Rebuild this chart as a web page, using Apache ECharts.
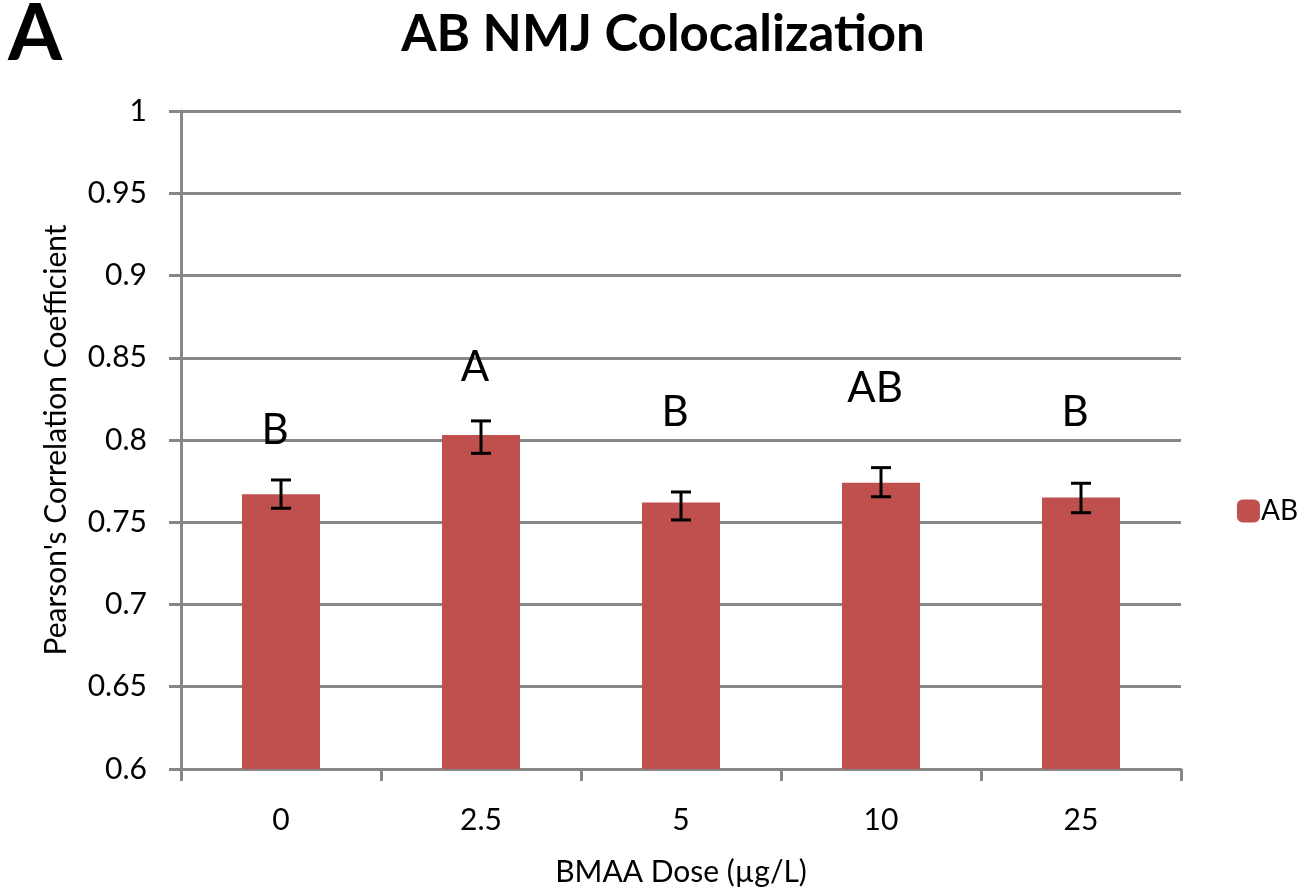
<!DOCTYPE html>
<html>
<head>
<meta charset="utf-8">
<script src="https://cdn.jsdelivr.net/npm/echarts@6/dist/echarts.min.js"></script>
<style>html,body{margin:0;padding:0;background:#fff;}#c{width:1305px;height:892px;}</style>
</head>
<body>
<div id="c"></div>
<script>
var categories = ['0', '2.5', '5', '10', '25'];
var means = [0.767, 0.803, 0.762, 0.774, 0.765];
var errLow = [0.7585, 0.7919, 0.7514, 0.7655, 0.7558];
var errHigh = [0.7757, 0.8116, 0.7684, 0.7832, 0.7737];
var letters = ['B', 'A', 'B', 'AB', 'B'];
var letterY = [0.8055, 0.8438, 0.817, 0.8316, 0.817];
var yTicks = [0.6, 0.65, 0.7, 0.75, 0.8, 0.85, 0.9, 0.95, 1];

var FONT = 'Lato, "Open Sans", sans-serif';
var chart = echarts.init(document.getElementById('c'));
var gridColor = '#878787';

chart.setOption({
  backgroundColor: '#ffffff',
  animation: false,
  title: {
    text: 'AB NMJ Colocalization',
    left: 658, top: 4, textAlign: 'center',
    textStyle: {fontFamily: FONT, fontSize: 51, fontWeight: 'bold', color: '#000'}
  },
  graphic: [{
    type: 'text', left: 8, top: -4,
    style: {text: 'A', font: 'bold 78px ' + FONT, fill: '#000'}
  }],
  legend: {
    right: 2, top: 492, itemWidth: 23, itemHeight: 23, itemGap: 0,
    data: ['AB'],
    textStyle: {fontFamily: FONT, fontSize: 28, color: '#000', padding: [0, 0, 0, -4]}
  },
  grid: {left: 181, right: 124, top: 111, bottom: 123},
  xAxis: {
    type: 'category', data: categories,
    name: 'BMAA Dose (\u00b5g/L)', nameLocation: 'middle', nameGap: 88,
    nameTextStyle: {fontFamily: FONT, fontSize: 30, color: '#000'},
    axisLine: {lineStyle: {color: gridColor, width: 3}},
    axisTick: {show: true, length: 12, lineStyle: {color: gridColor, width: 3}},
    axisLabel: {fontFamily: FONT, fontSize: 30, color: '#000', margin: 36}
  },
  yAxis: {
    type: 'value', min: 0.6, max: 1, interval: 0.05,
    name: "Pearson's Correlation Coefficient", nameLocation: 'middle', nameGap: 110,
    nameTextStyle: {fontFamily: FONT, fontSize: 30, color: '#000'},
    axisLine: {show: true, lineStyle: {color: gridColor, width: 3}},
    axisTick: {show: true, length: 12, lineStyle: {color: gridColor, width: 3}},
    splitLine: {lineStyle: {color: gridColor, width: 3}},
    axisLabel: {fontFamily: FONT, fontSize: 30, color: '#000', margin: 34,
      formatter: function (v) {
        var best = yTicks.reduce(function (a, b) { return Math.abs(b - v) < Math.abs(a - v) ? b : a; });
        return String(best);
      }}
  },
  series: [
    {
      name: 'AB', type: 'bar', data: means, barWidth: 78,
      itemStyle: {color: '#C0504D'}
    },
    {
      type: 'custom', name: 'err', silent: true,
      data: categories.map(function (c, i) { return [i, errLow[i], errHigh[i]]; }),
      renderItem: function (params, api) {
        var lo = api.coord([api.value(0), api.value(1)]);
        var hi = api.coord([api.value(0), api.value(2)]);
        var hw = 10;
        var st = {stroke: '#000', lineWidth: 3};
        return {type: 'group', children: [
          {type: 'line', shape: {x1: hi[0], y1: hi[1], x2: lo[0], y2: lo[1]}, style: st},
          {type: 'line', shape: {x1: hi[0] - hw, y1: hi[1], x2: hi[0] + hw, y2: hi[1]}, style: st},
          {type: 'line', shape: {x1: lo[0] - hw, y1: lo[1], x2: lo[0] + hw, y2: lo[1]}, style: st}
        ]};
      },
      z: 5
    },
    {
      type: 'custom', name: 'letters', silent: true,
      data: categories.map(function (c, i) { return [i, letterY[i], letters[i]]; }),
      renderItem: function (params, api) {
        var p = api.coord([api.value(0), api.value(1)]);
        return {type: 'text', x: p[0] - 6, y: p[1],
          style: {text: letters[params.dataIndex], font: '42px ' + FONT, fill: '#000',
            align: 'center', verticalAlign: 'middle'}};
      },
      z: 6
    }
  ]
});
</script>
</body>
</html>
